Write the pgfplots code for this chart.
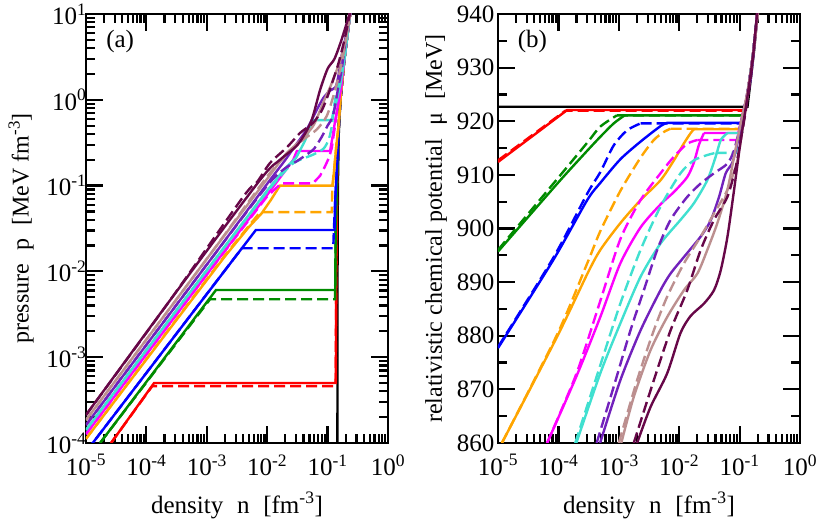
\documentclass[border=0pt]{standalone}
\usepackage{fontspec}
\setmainfont{Liberation Serif}
\usepackage{pgfplots}
\pgfplotsset{compat=1.18}

\definecolor{cred}{RGB}{255,0,0}
\definecolor{cgreen}{RGB}{0,139,0}
\definecolor{cblue}{RGB}{0,0,255}
\definecolor{corange}{RGB}{255,165,0}
\definecolor{cmag}{RGB}{255,0,255}
\definecolor{cturq}{RGB}{64,224,208}
\definecolor{cindigo}{RGB}{114,33,188}
\definecolor{crosy}{RGB}{188,143,143}
\definecolor{cmaroon}{RGB}{103,7,72}

\tikzset{
  sol/.style={solid, line width=2.4pt},
  dsh/.style={line width=2.4pt, dash pattern=on 11pt off 5pt},
  sm/.style={smooth, tension=0.45},
}
\newcommand{\bigf}{\fontsize{24}{28}\selectfont}
\newcommand{\tickf}{\fontsize{25}{29}\selectfont}
\newcommand{\gap}{\hspace{0.55em}}

\begin{document}
\begin{tikzpicture}
\useasboundingbox (0pt,0pt) rectangle (817pt,521pt);

% ---------------- (a) pressure ----------------
\begin{axis}[at={(86pt,78pt)}, anchor=south west,
  scale only axis, width=302pt, height=429pt,
  axis line style={line width=2.6pt},
  tick style={line width=2.2pt, black},
  major tick length=17pt, minor tick length=9pt,
  ticklabel style={font=\tickf},
  label style={font=\bigf},
  xmode=log, ymode=log, xmin=1e-5, xmax=1, ymin=1e-4, ymax=10,
  xtick={1e-5,1e-4,1e-3,1e-2,1e-1,1},
  xticklabels={10\textsuperscript{-5},10\textsuperscript{-4},10\textsuperscript{-3},10\textsuperscript{-2},10\textsuperscript{-1},10\textsuperscript{0}},
  minor xtick={2e-5,3e-5,4e-5,5e-5,6e-5,7e-5,8e-5,9e-5,
               2e-4,3e-4,4e-4,5e-4,6e-4,7e-4,8e-4,9e-4,
               2e-3,3e-3,4e-3,5e-3,6e-3,7e-3,8e-3,9e-3,
               2e-2,3e-2,4e-2,5e-2,6e-2,7e-2,8e-2,9e-2,
               0.2,0.3,0.4,0.5,0.6,0.7,0.8,0.9},
  xticklabel style={yshift=-8pt},
  xlabel={\fontsize{25}{29}\selectfont density\gap n\gap [fm\textsuperscript{-3}]},
  xlabel style={at={(axis description cs:0.5,-0.1632)}, anchor=base},
  ytick={1e-4,1e-3,1e-2,1e-1,1,10},
  yticklabels={10\textsuperscript{-4},10\textsuperscript{-3},10\textsuperscript{-2},10\textsuperscript{-1},10\textsuperscript{0},10\textsuperscript{1}},
  minor ytick={2e-4,3e-4,4e-4,5e-4,6e-4,7e-4,8e-4,9e-4,
               2e-3,3e-3,4e-3,5e-3,6e-3,7e-3,8e-3,9e-3,
               2e-2,3e-2,4e-2,5e-2,6e-2,7e-2,8e-2,9e-2,
               0.2,0.3,0.4,0.5,0.6,0.7,0.8,0.9,
               2,3,4,5,6,7,8,9},
  yticklabel style={xshift=4pt},
  ylabel={pressure\gap p\gap [MeV fm\textsuperscript{-3}]},
  ylabel style={at={(axis description cs:-0.215,0.5)}, anchor=center},
]
\addplot[black,sol] coordinates {(0.1455,1e-4)(0.146,1e-2)(0.148,0.1)(0.153,0.4)(0.163,1)(0.19,3)(0.24,11)};
% red
\addplot[cred,sol] coordinates {(2.6e-5,1e-4)(1.34e-4,5.0e-4)(0.137,5.0e-4)(0.139,0.01)(0.143,0.1)(0.152,0.45)(0.163,1)(0.19,3)(0.24,11)};
\addplot[cred,dsh] coordinates {(2.6e-5,1e-4)(1.25e-4,4.6e-4)(0.136,4.6e-4)(0.139,0.01)(0.143,0.1)(0.152,0.45)(0.163,1)(0.19,3)(0.24,11)};
% green
\addplot[cgreen,sol] coordinates {(1.71e-5,1e-4)(1.42e-3,6.07e-3)(0.134,6.07e-3)(0.136,0.03)(0.143,0.12)(0.152,0.45)(0.163,1)(0.19,3)(0.24,11)};
\addplot[cgreen,dsh] coordinates {(1.71e-5,1e-4)(1.13e-3,4.73e-3)(0.133,4.73e-3)(0.136,0.03)(0.143,0.12)(0.152,0.45)(0.163,1)(0.19,3)(0.24,11)};
% blue
\addplot[cblue,sol] coordinates {(1e-5,7.9e-5)(6.5e-3,3.04e-2)(0.13,3.04e-2)(0.134,0.07)(0.142,0.15)(0.152,0.45)(0.163,1)(0.19,3)(0.24,11)};
\addplot[cblue,dsh] coordinates {(1e-5,7.9e-5)(3.8e-3,1.86e-2)(0.124,1.86e-2)(0.127,0.03)(0.134,0.07)(0.142,0.15)(0.152,0.45)(0.163,1)(0.19,3)(0.24,11)};
% orange
\addplot[corange,sol] coordinates {(1e-5,1.12e-4)(2e-3,1.5e-2)(5e-3,0.033)(8e-3,0.047)(1.15e-2,0.068)(1.63e-2,0.1)(0.122,0.1)(0.128,0.15)(0.14,0.3)(0.152,0.5)(0.163,1)(0.19,3)(0.24,11)};
\addplot[corange,dsh] coordinates {(1e-5,1.12e-4)(2e-3,1.54e-2)(7.6e-3,0.049)(0.117,0.049)(0.12,0.1)(0.128,0.15)(0.14,0.3)(0.152,0.5)(0.163,1)(0.19,3)(0.24,11)};
% magenta
\addplot[cmag,sol] coordinates {(1e-5,1.27e-4)(1e-3,9.2e-3)(0.01,0.078)(0.02,0.15)(0.027,0.2)(0.031,0.253)(0.11,0.253)(0.12,0.36)(0.135,0.6)(0.15,0.9)(0.165,1.3)(0.19,3)(0.24,11)};
\addplot[cmag,dsh] coordinates {(1e-5,1.27e-4)(1e-3,9.2e-3)(0.01,0.075)(0.017,0.106)(0.057,0.106)(0.075,0.13)(0.09,0.166)(0.105,0.21)(0.117,0.272)(0.13,0.45)(0.145,0.8)(0.165,1.3)(0.19,3)(0.24,11)};
% turquoise
\addplot[cturq,sol] coordinates {(1e-5,1.42e-4)(1e-3,1.03e-2)(0.01,0.0875)(0.02,0.16)(0.03,0.21)(0.042,0.33)(0.05,0.45)(0.057,0.58)(0.117,0.58)(0.13,0.8)(0.145,1.05)(0.165,1.6)(0.19,3)(0.24,11)};
\addplot[cturq,dsh,sm] coordinates {(1e-5,1.42e-4)(1e-3,1.03e-2)(0.01,0.085)(0.024,0.17)(0.035,0.2)(0.058,0.23)(0.086,0.27)(0.105,0.35)(0.118,0.5)(0.125,0.76)(0.14,1.2)(0.165,1.8)(0.19,3)(0.24,11)};
% indigo
\addplot[cindigo,sol,sm] coordinates {(1e-5,1.62e-4)(1e-3,1.2e-2)(0.01,0.105)(0.02,0.2)(0.03,0.3)(0.045,0.45)(0.066,0.76)(0.085,1.05)(0.11,1.28)(0.135,1.4)(0.15,1.85)(0.165,2.9)(0.2,5.5)(0.24,11)};
\addplot[cindigo,dsh,sm] coordinates {(1e-5,1.62e-4)(1e-3,1.2e-2)(0.01,0.1)(0.02,0.16)(0.03,0.19)(0.045,0.23)(0.06,0.27)(0.08,0.37)(0.1,0.5)(0.12,0.62)(0.135,0.9)(0.15,1.4)(0.17,2.2)(0.2,5)(0.24,11)};
% rosy brown
\addplot[crosy,sol,sm] coordinates {(1e-5,1.85e-4)(1e-3,1.4e-2)(0.01,0.12)(0.02,0.23)(0.03,0.3)(0.045,0.4)(0.06,0.52)(0.086,0.95)(0.11,1.4)(0.13,1.9)(0.16,2.8)(0.2,5)(0.24,11)};
\addplot[crosy,dsh,sm] coordinates {(1e-5,1.85e-4)(1e-3,1.4e-2)(5e-3,0.066)(0.011,0.139)(0.021,0.23)(0.039,0.34)(0.066,0.45)(0.096,0.64)(0.124,1.09)(0.15,1.8)(0.18,3.2)(0.24,11)};
% maroon
\addplot[cmaroon,sol,sm] coordinates {(1e-5,2.12e-4)(2.46e-4,4.6e-3)(7.6e-3,0.116)(0.0163,0.2)(0.032,0.3)(0.053,0.55)(0.075,1.3)(0.1,2.3)(0.13,3.0)(0.17,5)(0.24,11)};
\addplot[cmaroon,dsh,sm] coordinates {(1e-5,2.12e-4)(2.46e-4,4.6e-3)(3.98e-3,0.0736)(6.8e-3,0.11)(0.0111,0.183)(0.0213,0.28)(0.0349,0.41)(0.0573,0.537)(0.08,0.75)(0.1,1.1)(0.12,1.6)(0.15,2.6)(0.19,5)(0.24,11)};
\node[font=\tickf] at (axis description cs:0.113,0.935) {(a)};
\end{axis}

% ---------------- (b) chemical potential ----------------
\begin{axis}[at={(498pt,78pt)}, anchor=south west,
  scale only axis, width=302pt, height=429pt,
  axis line style={line width=2.6pt},
  tick style={line width=2.2pt, black},
  major tick length=17pt, minor tick length=9pt,
  ticklabel style={font=\tickf},
  label style={font=\bigf},
  xmode=log, xmin=1e-5, xmax=1, ymin=860, ymax=940,
  xtick={1e-5,1e-4,1e-3,1e-2,1e-1,1},
  xticklabels={10\textsuperscript{-5},10\textsuperscript{-4},10\textsuperscript{-3},10\textsuperscript{-2},10\textsuperscript{-1},10\textsuperscript{0}},
  minor xtick={2e-5,3e-5,4e-5,5e-5,6e-5,7e-5,8e-5,9e-5,
               2e-4,3e-4,4e-4,5e-4,6e-4,7e-4,8e-4,9e-4,
               2e-3,3e-3,4e-3,5e-3,6e-3,7e-3,8e-3,9e-3,
               2e-2,3e-2,4e-2,5e-2,6e-2,7e-2,8e-2,9e-2,
               0.2,0.3,0.4,0.5,0.6,0.7,0.8,0.9},
  xticklabel style={yshift=-8pt},
  xlabel={\fontsize{25}{29}\selectfont density\gap n\gap [fm\textsuperscript{-3}]},
  xlabel style={at={(axis description cs:0.5,-0.1632)}, anchor=base},
  ytick={860,870,880,890,900,910,920,930,940},
  yticklabels={860,870,880,890,900,910,920,930,940},
  minor ytick={865,875,885,895,905,915,925,935},
  ylabel={relativistic chemical potential\gap μ\gap [MeV]},
  ylabel style={at={(axis description cs:-0.205,0.5)}, anchor=center},
]
\addplot[black,sol] coordinates {(1e-5,922.7)(0.135,922.7)(0.15,927)(0.175,933.5)(0.21,943)};
% red
\addplot[cred,sol] coordinates {(1e-5,912.4)(1.4e-4,922.1)(0.12,922.1)(0.135,925)(0.165,932)(0.21,943)};
\addplot[cred,dsh] coordinates {(1e-5,912.7)(1.3e-4,921.95)(0.12,921.95)(0.135,925)(0.165,932)(0.21,943)};
% green
\addplot[cgreen,sol,sm] coordinates {(1e-5,895.7)(1e-4,908.6)(3e-4,914.5)(4.94e-4,917.1)(8.24e-4,919.6)(1.25e-3,921.1)};
\addplot[cgreen,sol] coordinates {(1.25e-3,921.1)(0.115,921.1)(0.135,925)(0.165,932)(0.21,943)};
\addplot[cgreen,dsh,sm] coordinates {(1e-5,896)(1e-4,909.5)(3e-4,916)(4.94e-4,919.0)(9.3e-4,921.1)};
\addplot[cgreen,dsh] coordinates {(9.3e-4,921.1)(0.115,921.1)(0.135,925)(0.165,932)(0.21,943)};
% blue
\addplot[cblue,sol,sm] coordinates {(1e-5,877.7)(8.2e-5,894.1)(3e-4,905.3)(4.94e-4,908.5)(1.06e-3,912.9)(2.29e-3,916.2)(4.91e-3,919.1)(6.33e-3,919.7)};
\addplot[cblue,sol] coordinates {(6.33e-3,919.7)(0.105,919.7)(0.135,925)(0.165,932)(0.21,943)};
\addplot[cblue,dsh,sm] coordinates {(1e-5,877.9)(8.2e-5,894.5)(3e-4,906.5)(4.94e-4,910.5)(8.24e-4,915.5)(1.37e-3,918.3)(2.29e-3,919.6)};
\addplot[cblue,dsh] coordinates {(2.29e-3,919.6)(0.105,919.6)(0.135,925)(0.165,932)(0.21,943)};
% orange
\addplot[corange,sol,sm] coordinates {(1.16e-5,860)(9.5e-5,879.8)(3e-4,891.5)(4.94e-4,896.0)(1.06e-3,901.0)(2.29e-3,905.3)(4.91e-3,909.0)(8.17e-3,912.7)(1.2e-2,915.9)(1.55e-2,917.8)(1.75e-2,918.5)};
\addplot[corange,sol] coordinates {(1.75e-2,918.5)(0.1,918.5)(0.135,925)(0.165,932)(0.21,943)};
\addplot[corange,dsh,sm] coordinates {(1.16e-5,860)(9.5e-5,880.2)(3e-4,893.5)(4.94e-4,899.5)(1.06e-3,907)(2.29e-3,913.2)(3.8e-3,916.5)(5.57e-3,918.0)(7.19e-3,918.6)};
\addplot[corange,dsh] coordinates {(7.19e-3,918.6)(0.1,918.6)(0.135,925)(0.165,932)(0.21,943)};
% magenta
\addplot[cmag,sol,sm] coordinates {(6.5e-5,860)(2e-4,872.5)(4.94e-4,883.5)(1.06e-3,893.5)(2.29e-3,900.2)(4.91e-3,904.5)(8.17e-3,906.8)(1.36e-2,909.6)(1.75e-2,912.3)(2.12e-2,915.6)(2.57e-2,917.8)};
\addplot[cmag,sol] coordinates {(2.57e-2,917.8)(0.095,917.8)(0.135,925)(0.165,932)(0.21,943)};
\addplot[cmag,dsh,sm] coordinates {(6.5e-5,860)(2e-4,873)(4.94e-4,886.5)(1.06e-3,898.0)(2.29e-3,905.3)(4.91e-3,910.3)(8.17e-3,913.4)(1.36e-2,915.8)(2e-2,916.5)};
\addplot[cmag,dsh] coordinates {(2e-2,916.5)(0.095,916.5)(0.135,925)(0.165,932)(0.21,943)};
% turquoise
\addplot[cturq,sol,sm] coordinates {(1.98e-4,860)(4.94e-4,873.0)(1.06e-3,882.3)(2.29e-3,891.0)(4.91e-3,897.2)(1.05e-2,901.6)(1.75e-2,904.7)(2.92e-2,909.0)(4.02e-2,913.4)(4.88e-2,916.5)(6.28e-2,917.8)};
\addplot[cturq,sol] coordinates {(6.28e-2,917.8)(0.1,917.8)(0.135,925)(0.165,932)(0.21,943)};
\addplot[cturq,dsh,sm] coordinates {(1.9e-4,860)(4.94e-4,874.5)(1.06e-3,886.0)(2.29e-3,896.0)(4.91e-3,904.1)(1.05e-2,910.3)(1.75e-2,912.7)(2.92e-2,913.7)(4.02e-2,914.1)};
\addplot[cturq,dsh] coordinates {(4.02e-2,914.1)(8.65e-2,914.1)(0.11,918)(0.135,925)(0.165,932)(0.21,943)};
% indigo
\addplot[cindigo,sol,sm] coordinates {(4.9e-4,860)(1.06e-3,871.7)(2.29e-3,881.0)(4.91e-3,888.5)(7.19e-3,891.6)(1.2e-2,894.7)(2.27e-2,898.5)(3.32e-2,901.5)(4.57e-2,905.9)(5.89e-2,910.3)(7.6e-2,912.3)(9.2e-2,915.9)(0.119,922.1)(0.153,928)(0.21,943)};
\addplot[cindigo,dsh,sm] coordinates {(4.3e-4,860)(8.24e-4,870.5)(1.56e-3,881.0)(2.6e-3,888.5)(4.32e-3,896.0)(7.19e-3,901.6)(1.36e-2,905.9)(2.27e-2,908.4)(3.77e-2,910.3)(6.28e-2,912.1)(8.1e-2,914.6)(0.1045,919.6)(0.135,925.5)(0.17,933)(0.21,943)};
% rosy brown
\addplot[crosy,sol,sm] coordinates {(1.1e-3,860)(1.77e-3,868.6)(3.35e-3,877.3)(6.33e-3,883.5)(1.2e-2,888.5)(2.0e-2,891.6)(2.92e-2,896.0)(4.28e-2,901.0)(6.28e-2,907.2)(8.1e-2,913.4)(0.1045,919.6)(0.135,925.5)(0.17,933)(0.215,943)};
\addplot[crosy,dsh,sm] coordinates {(1.0e-3,860)(2.01e-3,871.7)(3.8e-3,881.0)(6.33e-3,887.3)(1.2e-2,893.5)(2.27e-2,898.5)(3.77e-2,902.8)(6.28e-2,907.2)(9.2e-2,912.7)(0.11,918)(0.135,924.5)(0.17,933)(0.21,943)};
% maroon
\addplot[cmaroon,sol,sm] coordinates {(2.01e-3,860)(3.35e-3,866.7)(6.33e-3,873.0)(1.05e-2,880.5)(1.55e-2,883.7)(2.57e-2,886.0)(3.77e-2,888.5)(4.87e-2,892.2)(6.28e-2,898.4)(8.1e-2,907.2)(0.1045,916.5)(0.135,924.6)(0.17,933)(0.205,943)};
\addplot[cmaroon,dsh,sm] coordinates {(1.77e-3,860)(3.8e-3,871.7)(7.19e-3,881.0)(1.36e-2,888.5)(2.27e-2,896.0)(3.77e-2,901.6)(6.28e-2,905.9)(8.65e-2,911.5)(0.1045,916.5)(0.127,922.1)(0.16,930)(0.205,943)};
\node[font=\tickf] at (axis description cs:0.114,0.935) {(b)};
\end{axis}
\end{tikzpicture}
\end{document}
